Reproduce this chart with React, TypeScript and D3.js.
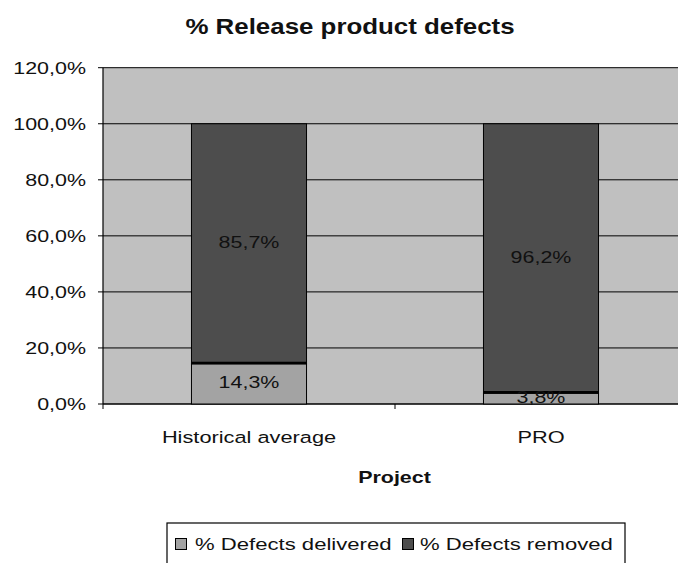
import React from "react";
import * as d3 from "d3";

const categories = ["Historical average", "PRO"];
const delivered = [14.3, 3.8];
const removed = [85.7, 96.2];
const yTicks = [0, 20, 40, 60, 80, 100, 120];
const seriesNames = ["% Defects delivered", "% Defects removed"];
const title = "% Release product defects";
const xTitle = "Project";

const W = 678;
const H = 563;
const SX = 1.3;
const FONT = "'Liberation Sans', Arial, sans-serif";
const colors = ["#a3a3a3", "#4d4d4d"];

const fmt = (v: number) => v.toFixed(1).replace(".", ",") + "%";

function T({ x, y, children, size = 16.5, weight = "normal", anchor = "middle", baseline = "auto", sx = SX }: any) {
  return (
    <text
      transform={`translate(${x},${y}) scale(${sx},1)`}
      textAnchor={anchor}
      dominantBaseline={baseline}
      fontFamily={FONT}
      fontSize={size}
      fontWeight={weight}
      fill="#111"
    >
      {children}
    </text>
  );
}

export default function App() {
  const left = 103;
  const right = 687;
  const top = 67.7;
  const bottom = 404;
  const x = d3.scaleBand<string>().domain(categories).range([left, right]).paddingInner(0.606).paddingOuter(0.303);
  const y = d3.scaleLinear().domain([0, 120]).range([bottom, top]);
  const step = x.step();
  const bw = x.bandwidth();
  const tickXs = d3.range(categories.length + 1).map((i) => left + i * step);

  return (
    <svg width={W} height={H} style={{ position: "absolute", left: 0, top: 0, background: "#fff" }}>
      <T x={350} y={33.5} size={22.5} weight="bold" sx={1.15}>{title}</T>
      <rect x={left} y={top} width={right - left} height={bottom - top} fill="#c0c0c0" />
      {yTicks.map((t) => (
        <g key={t}>
          <line x1={left - 5} x2={right} y1={y(t)} y2={y(t)} stroke="#000" strokeWidth={1} />
          <T x={86} y={y(t) + 6} anchor="end">{fmt(t)}</T>
        </g>
      ))}
      <line x1={left} x2={left} y1={top} y2={bottom} stroke="#000" strokeWidth={1.2} />
      <line x1={left} x2={right} y1={bottom} y2={bottom} stroke="#000" strokeWidth={1.2} />
      {tickXs.map((tx, i) => (
        <line key={i} x1={tx} x2={tx} y1={bottom} y2={bottom + 5} stroke="#000" strokeWidth={1} />
      ))}
      {categories.map((c, i) => {
        const x0 = x(c)!;
        const d = delivered[i];
        const r = removed[i];
        return (
          <g key={c}>
            <rect x={x0} y={y(d + r)} width={bw} height={y(d) - y(d + r)} fill={colors[1]} stroke="#000" strokeWidth={1} />
            <rect x={x0} y={y(d)} width={bw} height={y(0) - y(d)} fill={colors[0]} stroke="#000" strokeWidth={1} />
            <line x1={x0} x2={x0 + bw} y1={y(d) - 1} y2={y(d) - 1} stroke="#000" strokeWidth={2.5} />
            <T x={x0 + bw / 2} y={(y(d + r) + y(d)) / 2} baseline="middle">{fmt(r)}</T>
            <T x={x0 + bw / 2} y={(y(d) + y(0)) / 2} baseline="middle">{fmt(d)}</T>
            <T x={x0 + bw / 2} y={443} sx={1.32}>{c}</T>
          </g>
        );
      })}
      <T x={394.5} y={483} weight="bold">{xTitle}</T>
      <rect x={167} y={523} width={458} height={60} fill="#fff" stroke="#000" strokeWidth={1.2} />
      <rect x={175.5} y={538.5} width={11} height={11} fill={colors[0]} stroke="#000" strokeWidth={1} />
      <T x={195} y={550} anchor="start" sx={1.34}>{seriesNames[0]}</T>
      <rect x={402.5} y={538.5} width={11} height={11} fill={colors[1]} stroke="#000" strokeWidth={1} />
      <T x={420} y={550} anchor="start" sx={1.34}>{seriesNames[1]}</T>
    </svg>
  );
}
